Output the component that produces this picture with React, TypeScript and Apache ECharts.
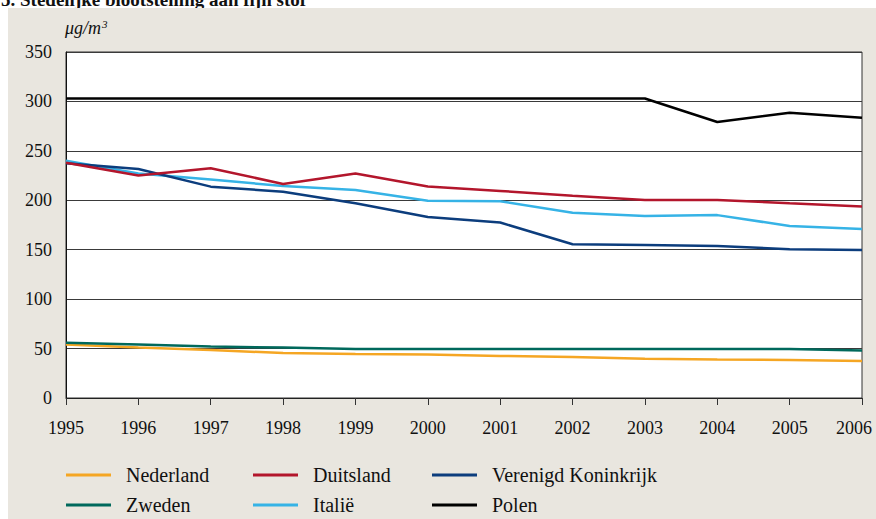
import React, { useEffect, useRef } from "react";
import * as echarts from "echarts";

const years = ["1995","1996","1997","1998","1999","2000","2001","2002","2003","2004","2005","2006"];
const nederland = [54, 51, 48.5, 45.5, 44.5, 44, 42.5, 41.5, 39.8, 39, 38.4, 37.4];
const duitsland = [238, 225, 232.5, 216.5, 227, 214, 209.5, 204.5, 200.3, 200.3, 197, 193.8];
const verenigdKoninkrijk = [237.5, 231.6, 213.8, 208.7, 197, 183, 177.5, 155.5, 154.7, 153.8, 150.5, 149.8];
const zweden = [56, 54, 52, 51, 49.5, 49.5, 49.5, 49.5, 49.6, 49.6, 49.6, 48];
const italie = [240, 227, 221, 214.4, 210.4, 199.5, 199, 187.3, 184, 185, 174, 171];
const polen = [303, 303, 303, 303, 303, 303, 303, 303, 303, 279.2, 288.6, 283.6];
const yTicks = { min: 0, max: 350, interval: 50 };

const FONT = "'Liberation Serif', 'DejaVu Serif', serif";

export default function App() {
  const ref = useRef<HTMLDivElement>(null);
  useEffect(() => {
    if (!ref.current) return;
    const chart = echarts.init(ref.current, undefined, { renderer: "svg" });
    const mk = (name: string, data: number[], color: string) => ({
      name,
      type: "line",
      data,
      showSymbol: false,
      symbol: "none",
      color,
      lineStyle: { width: 2.5, color },
      z: 3,
    });
    const legendCommon = {
      orient: "vertical",
      top: 463,
      height: 56,
      padding: 0,
      itemGap: 6,
      itemWidth: 45,
      itemHeight: 3,
      icon: "rect",
      selectedMode: false,
      textStyle: {
        fontFamily: FONT,
        fontSize: 20,
        color: "#111",
        lineHeight: 16,
        padding: [0, 0, 8, 10],
      },
    };
    chart.setOption({
      animation: false,
      backgroundColor: "#ffffff",
      textStyle: { fontFamily: FONT },
      graphic: [
        {
          type: "text",
          x: 1,
          y: 9,
          z: -2,
          style: {
            text: "5. Stedelijke blootstelling aan fijn stof",
            font: "bold 19px 'Liberation Serif', serif",
            fill: "#111",
            verticalAlign: "bottom",
          },
        },
        {
          type: "rect",
          z: -1,
          shape: { x: 8, y: 8, width: 868, height: 511 },
          style: { fill: "#e9e6df" },
        },
        {
          type: "text",
          x: 65,
          y: 28,
          style: {
            text: "{a|μg/m}{b|3}",
            rich: {
              a: { fontFamily: FONT, fontStyle: "italic", fontSize: 18, fill: "#111" },
              b: { fontFamily: FONT, fontStyle: "italic", fontSize: 11, fill: "#111", verticalAlign: "top", padding: [0, 0, 8, 1] },
            },
            verticalAlign: "middle",
          },
        },
      ],
      grid: {
        left: 66,
        top: 52,
        width: 796,
        height: 346,
        show: true,
        backgroundColor: "#ffffff",
        borderColor: "#333",
        borderWidth: 1,
      },
      xAxis: {
        type: "category",
        data: years,
        boundaryGap: false,
        axisLine: { lineStyle: { color: "#222", width: 1 } },
        axisTick: { show: true, length: 7, interval: 0, lineStyle: { color: "#333" } },
        axisLabel: {
          interval: 0,
          margin: 21,
          fontSize: 18,
          color: "#111",
          fontFamily: FONT,
          formatter: (v: string) => (v === "2006" ? "{last|" + v + "}" : v),
          rich: { last: { fontSize: 18, fontFamily: FONT, color: "#111", padding: [0, 16, 0, 0] } },
        },
        splitLine: { show: false },
      },
      yAxis: {
        type: "value",
        min: yTicks.min,
        max: yTicks.max,
        interval: yTicks.interval,
        axisLine: { show: true, lineStyle: { color: "#111", width: 1 } },
        axisTick: { show: false },
        axisLabel: { margin: 14, fontSize: 18, color: "#111", fontFamily: FONT },
        splitLine: { show: true, lineStyle: { color: "#3a3a3a", width: 1 } },
      },
      legend: [
        { ...legendCommon, left: 66, data: ["Nederland", "Zweden"] },
        { ...legendCommon, left: 253, data: ["Duitsland", "Italië"] },
        { ...legendCommon, left: 432, data: ["Verenigd Koninkrijk", "Polen"] },
      ],
      series: [
        mk("Polen", polen, "#000000"),
        mk("Nederland", nederland, "#f5a623"),
        mk("Zweden", zweden, "#00695c"),
        mk("Italië", italie, "#36b3e6"),
        mk("Verenigd Koninkrijk", verenigdKoninkrijk, "#0c3d7d"),
        mk("Duitsland", duitsland, "#b3162c"),
      ],
    });
    return () => chart.dispose();
  }, []);
  return (
    <div
      ref={ref}
      style={{ position: "absolute", left: 0, top: 0, width: 876, height: 519 }}
    />
  );
}
